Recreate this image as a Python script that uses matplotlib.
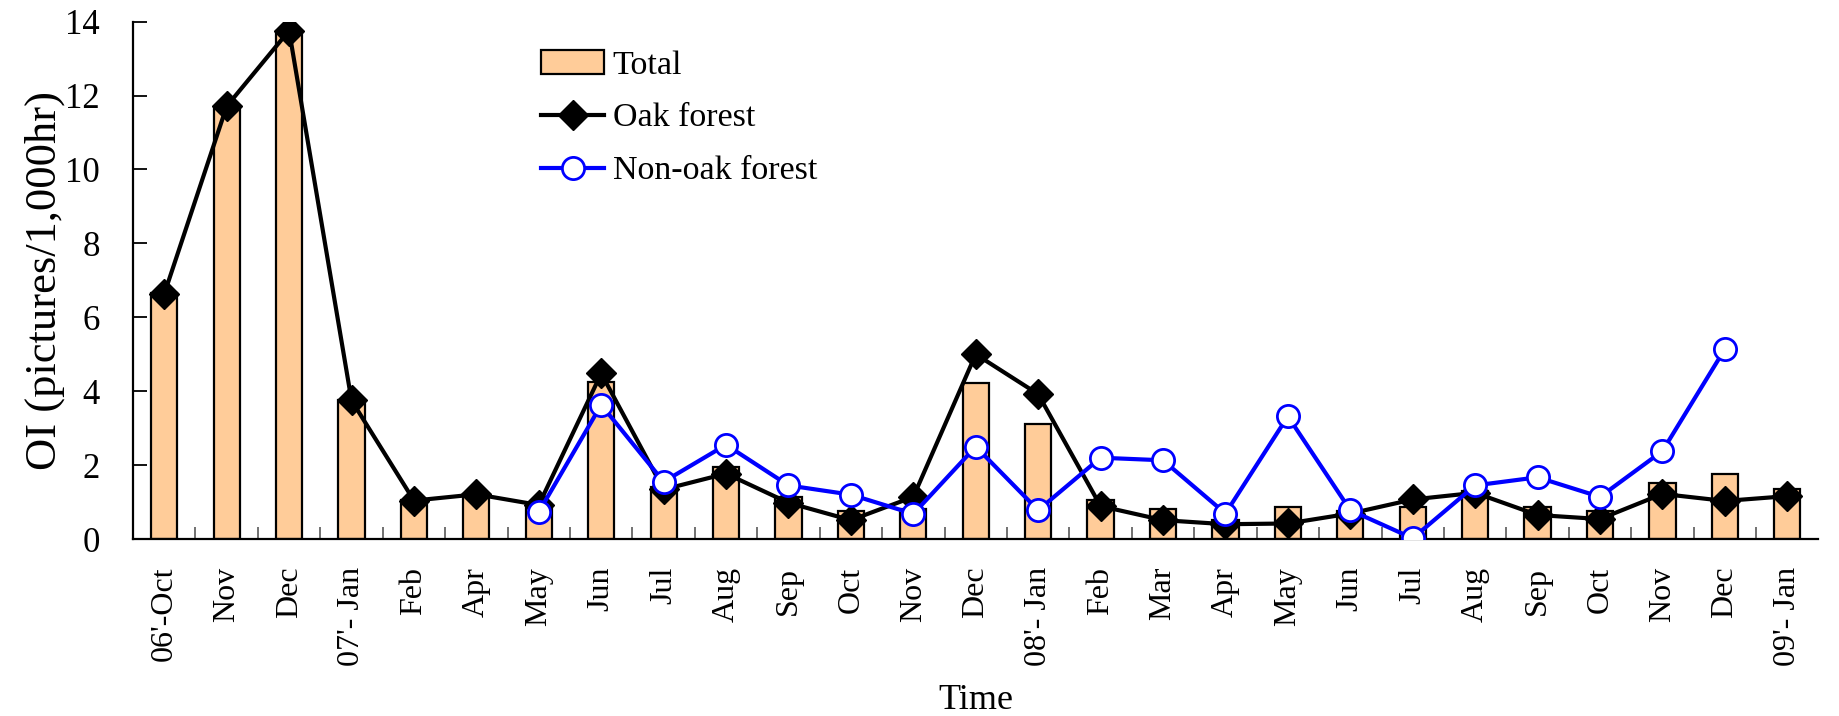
import matplotlib
matplotlib.use("Agg")
import matplotlib.pyplot as plt
import numpy as np

plt.rcParams['font.family'] = ['Liberation Serif', 'DejaVu Serif']

months = ["06'-Oct", "Nov", "Dec", "07'- Jan", "Feb", "Apr", "May", "Jun", "Jul",
          "Aug", "Sep", "Oct", "Nov", "Dec", "08'- Jan", "Feb", "Mar", "Apr", "May",
          "Jun", "Jul", "Aug", "Sep", "Oct", "Nov", "Dec", "09'- Jan"]

total = [6.65, 11.7, 13.76, 3.75, 1.06, 1.22, 0.87, 4.24, 1.4,
         1.94, 1.13, 0.77, 0.8, 4.23, 3.1, 1.05, 0.82, 0.51, 0.87,
         0.77, 0.87, 1.3, 0.87, 0.77, 1.52, 1.77, 1.35]

oak = [6.63, 11.71, 13.76, 3.75, 1.04, 1.21, 0.92, 4.48, 1.34,
       1.77, 0.98, 0.51, 1.14, 5.0, 3.92, 0.89, 0.51, 0.4, 0.42,
       0.69, 1.07, 1.25, 0.65, 0.54, 1.22, 1.03, 1.16]

nonoak = [np.nan, np.nan, np.nan, np.nan, np.nan, np.nan, 0.73, 3.63, 1.55,
          2.55, 1.45, 1.2, 0.68, 2.5, 0.78, 2.2, 2.13, 0.69, 3.32,
          0.78, 0.02, 1.45, 1.67, 1.14, 2.38, 5.14, np.nan]

x = np.arange(len(months))

fig = plt.figure(figsize=(18.4, 7.16), dpi=100)
ax = fig.add_axes([0.0723, 0.2472, 0.916, 0.7225])

b = ax.bar(x, total, width=0.42, color='#FFCC99', edgecolor='black', linewidth=1.6,
           label='Total', zorder=2)
l1, = ax.plot(x, oak, color='black', lw=3, marker='D', ms=15, mfc='black', mec='black',
              label='Oak forest', zorder=3)
l2, = ax.plot(x, nonoak, color='#0000FF', lw=3, marker='o', ms=16, mfc='white',
              mec='#0000FF', mew=2, label='Non-oak forest', zorder=4)

ax.set_xlim(-0.5, len(months) - 0.5)
ax.set_ylim(0, 14)
ax.set_yticks(np.arange(0, 15, 2))
ax.set_xticks(x)
ax.set_xticklabels(months, rotation=90, fontsize=23, va='top')
ax.set_xticks(x[:-1] + 0.5, minor=True)
ax.tick_params(axis='x', which='major', length=0, pad=20)
ax.tick_params(axis='x', which='minor', direction='in', length=9, color='#666666', width=1.3)
ax.tick_params(axis='y', direction='in', length=10, width=1.3, labelsize=25, pad=24)

for s in ['top', 'right']:
    ax.spines[s].set_visible(False)
for s in ['left', 'bottom']:
    ax.spines[s].set_linewidth(1.6)

ax.set_ylabel('OI (pictures/1,000hr)', fontsize=32, labelpad=0)
ax.set_xlabel('Time', fontsize=26, labelpad=13)

ax.legend([b, l1, l2], ['Total', 'Oak forest', 'Non-oak forest'],
          loc='upper left', bbox_to_anchor=(0.224, 1.005), frameon=False, fontsize=24.5,
          handlelength=1.85, handletextpad=0.25, labelspacing=0.65)

fig.savefig('out.png', dpi=100)
